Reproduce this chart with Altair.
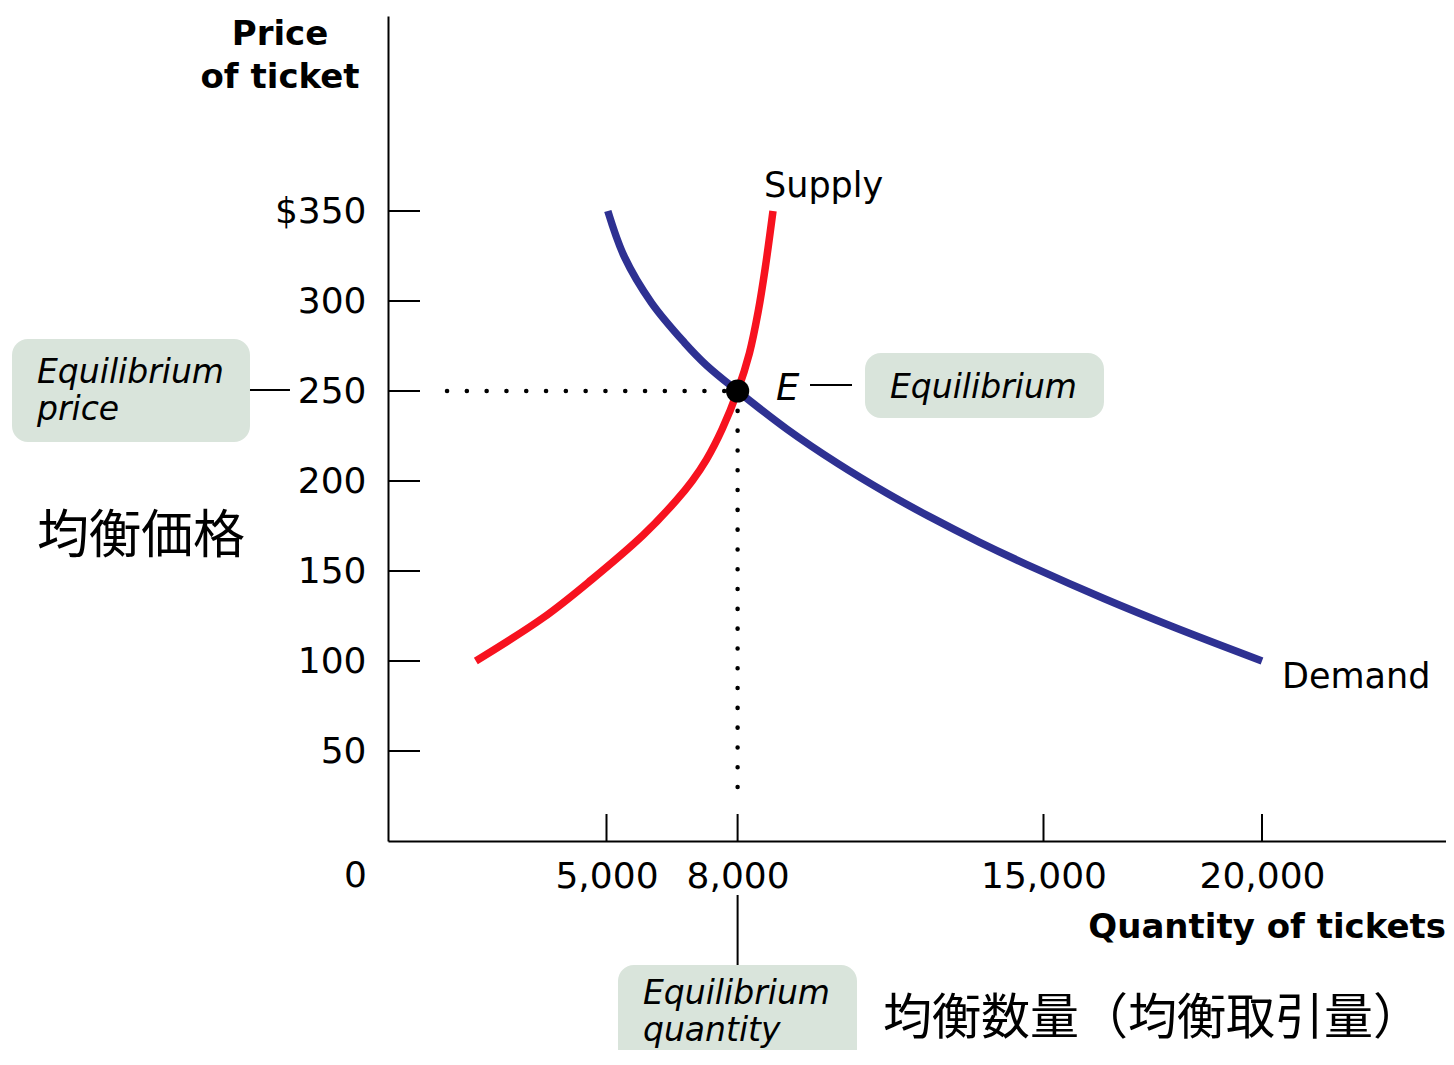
import altair as alt
import pandas as pd

# ---------------- data ----------------
supply_q = [2010, 3550, 4650, 5840, 6590, 6960, 7290, 7650, 8000, 8270, 8470, 8630, 8810]
supply_p = [100, 124, 145, 170, 189, 200, 212, 229, 250, 271, 294, 318, 350]

demand_q = [5030, 5410, 6030, 6780, 7280, 8000, 9140, 10280, 11410, 12360, 13530, 14850, 16380, 17960, 20000]
demand_p = [350, 324.5, 299, 277, 264.5, 250, 228.6, 209.9, 193.3, 180.6, 166.1, 151, 134.7, 119, 100]

eq_q = [8000]
eq_p = [250]

price_ticks = [50, 100, 150, 200, 250, 300, 350]
qty_ticks = [5000, 8000, 15000, 20000]

curve_names = ["Supply", "Demand"]
curve_colors = ["#f7121f", "#2e3192"]

# ---------------- layout ----------------
PLOT_W = 1058
PLOT_H = 825
X_MAX = PLOT_W / 0.0437
Y_MAX = PLOT_H / 1.8

xs = alt.Scale(domain=[0, X_MAX], nice=False, zero=False)
ys = alt.Scale(domain=[0, Y_MAX], nice=False, zero=False)

FONT = "DejaVu Sans"
CJK = "Noto Sans CJK JP"
BOX = "#d9e4db"

x_axis = alt.Axis(
    values=qty_ticks, labelExpr="format(datum.value, ',')", title=None, ticks=False, tickSize=0, grid=False,
    domainColor="black", domainWidth=2, labelFont=FONT, labelFontSize=36,
    labelColor="black", labelPadding=18, labelFlush=False, labelOverlap=False)
y_axis = alt.Axis(
    values=price_ticks, labelExpr="datum.value == 350 ? '$350' : format(datum.value, 'd')",
    title=None, ticks=False, tickSize=0, grid=False,
    domainColor="black", domainWidth=2, labelFont=FONT, labelFontSize=36,
    labelColor="black", labelPadding=22, labelFlush=False, labelOverlap=False)


def X():
    return alt.X("q:Q", scale=xs, axis=x_axis)


def Y():
    return alt.Y("p:Q", scale=ys, axis=y_axis)


curves = pd.DataFrame({
    "q": supply_q + demand_q,
    "p": supply_p + demand_p,
    "curve": ["Supply"] * len(supply_q) + ["Demand"] * len(demand_q),
})

lines = alt.Chart(curves).mark_line(strokeWidth=7.5, interpolate="catmull-rom").encode(
    x=X(), y=Y(),
    color=alt.Color("curve:N", scale=alt.Scale(domain=curve_names, range=curve_colors), legend=None),
    order="q:Q",
    detail="curve:N",
)

# inward ticks
yt = alt.Chart(pd.DataFrame({"p": price_ticks})).mark_rule(color="black", strokeWidth=2).encode(
    y=Y(), x=alt.value(0), x2=alt.value(32))
xt = alt.Chart(pd.DataFrame({"q": qty_ticks})).mark_rule(color="black", strokeWidth=2).encode(
    x=X(), y=alt.value(PLOT_H), y2=alt.value(PLOT_H - 27))

# dotted guide lines to the equilibrium
guides = pd.DataFrame({"q": [1350, eq_q[0]], "q2": [eq_q[0], eq_q[0]],
                       "p": [eq_p[0], eq_p[0]], "p2": [eq_p[0], 19]})
dotted = alt.Chart(guides).mark_rule(color="black", strokeWidth=4.5, strokeCap="round",
                                     strokeDash=[0.1, 19.7]).encode(
    x=X(), x2="q2:Q", y=Y(), y2="p2:Q")

eq_dot = alt.Chart(pd.DataFrame({"q": eq_q, "p": eq_p})).mark_circle(size=540, color="black", opacity=1).encode(
    x=X(), y=Y())

# annotation boxes (data units)
boxes = pd.DataFrame({
    "q": [-8604, 10915, 5263],
    "q2": [-3158, 16384, 10732],
    "p": [221.7, 235.0, -130.0],
    "p2": [278.9, 271.1, -68.9],
})
box_layer = alt.Chart(boxes).mark_rect(color=BOX, cornerRadius=16).encode(
    x=X(), x2="q2:Q", y=Y(), y2="p2:Q")

connectors = pd.DataFrame({
    "q": [-3158, 9657, 8000],
    "q2": [-2243, 10618, 8000],
    "p": [250.5, 253.3, -30.0],
    "p2": [250.5, 253.3, -68.9],
})
conn_layer = alt.Chart(connectors).mark_rule(color="black", strokeWidth=2).encode(
    x=X(), x2="q2:Q", y=Y(), y2="p2:Q")


def text_layer(df, **kw):
    return alt.Chart(df).mark_text(baseline="alphabetic", color="black", **kw).encode(
        x=X(), y=Y(), text="t:N")


bold_center = text_layer(pd.DataFrame({"q": [-2471, -2471], "p": [442.2, 418.3], "t": ["Price", "of ticket"]}),
                         font=FONT, fontSize=34, fontWeight="bold", align="center")
bold_right = text_layer(pd.DataFrame({"q": [X_MAX], "p": [-53.9], "t": ["Quantity of tickets"]}),
                        font=FONT, fontSize=34, fontWeight="bold", align="right")
curve_labels = text_layer(pd.DataFrame({"q": [8604, 20458], "p": [357.8, 85.0], "t": ["Supply", "Demand"]}),
                          font=FONT, fontSize=35, align="left")
zero_label = text_layer(pd.DataFrame({"q": [-744], "p": [-25.6], "t": ["0"]}),
                        font=FONT, fontSize=36, align="center")
e_label = text_layer(pd.DataFrame({"q": [8879], "p": [245.0], "t": ["E"]}),
                     font=FONT, fontSize=37, fontStyle="italic", align="left")
box_text = text_layer(pd.DataFrame({
    "q": [11487, -8032, -8032, 5835, 5835],
    "p": [246.1, 254.4, 233.9, -90.5, -111.1],
    "t": ["Equilibrium", "Equilibrium", "price", "Equilibrium", "quantity"]}),
    font=FONT, fontSize=33, fontStyle="italic", align="left")
jp1 = text_layer(pd.DataFrame({"q": [-8032], "p": [160.0], "t": ["均衡価格"]}),
                 font=CJK, fontSize=52, align="left")
jp2 = text_layer(pd.DataFrame({"q": [11327], "p": [-107.0], "t": ["均衡数量（均衡取引量）"]}),
                 font=CJK, fontSize=49, align="left")

chart = alt.layer(
    box_layer, conn_layer, yt, xt, dotted, lines, eq_dot,
    bold_center, bold_right, curve_labels, zero_label, e_label, box_text, jp1, jp2,
).properties(
    width=PLOT_W, height=PLOT_H,
    autosize=alt.AutoSizeParams(type="none"),
    padding={"left": 380, "top": 8, "right": 0, "bottom": 209},
    background="white",
).configure_view(stroke=None)

chart.save("out.html", embed_options={"renderer": "svg", "actions": False})
